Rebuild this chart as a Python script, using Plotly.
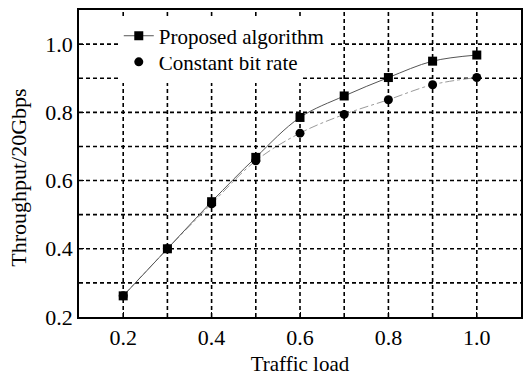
import plotly.graph_objects as go

traffic_load = [0.2, 0.3, 0.4, 0.5, 0.6, 0.7, 0.8, 0.9, 1.0]
proposed = [0.262, 0.400, 0.538, 0.668, 0.785, 0.848, 0.902, 0.950, 0.968]
constant = [0.262, 0.400, 0.532, 0.658, 0.739, 0.794, 0.837, 0.881, 0.902]
x_ticks = [0.2, 0.4, 0.6, 0.8, 1.0]
x_tick_text = ["0.2", "0.4", "0.6", "0.8", "1.0"]
y_ticks = [0.2, 0.4, 0.6, 0.8, 1.0]
y_tick_text = ["0.2", "0.4", "0.6", "0.8", "1.0"]

font = "Liberation Serif, Times New Roman, serif"

fig = go.Figure()
fig.add_trace(go.Scatter(
    x=traffic_load, y=constant, mode="lines",
    line=dict(color="#9a9a9a", width=1, dash="dashdot", shape="spline"),
    showlegend=False, hoverinfo="skip"))
fig.add_trace(go.Scatter(
    x=traffic_load, y=proposed, mode="lines+markers", name="Proposed algorithm",
    line=dict(color="#555555", width=1, shape="spline"),
    marker=dict(symbol="square", size=9, color="black"), legend="legend2"))
fig.add_trace(go.Scatter(
    x=traffic_load, y=constant, mode="markers", name="Constant bit rate",
    marker=dict(symbol="circle", size=9, color="black"), legend="legend"))

axis_common = dict(
    showline=True, linecolor="black", linewidth=1.5, mirror=True,
    ticks="inside", ticklen=5, tickcolor="black",
    showgrid=False, zeroline=False,
    tickfont=dict(family=font, size=22, color="black"),
)

fig.update_xaxes(range=[0.1, 1.1], tickvals=x_ticks, ticktext=x_tick_text,
                 title=dict(text="Traffic load", font=dict(family=font, size=21, color="black"), standoff=7),
                 **axis_common)
fig.update_yaxes(range=[0.2, 1.1], tickvals=y_ticks, ticktext=y_tick_text, **axis_common)

fig.add_annotation(text="Throughput/20Gbps", textangle=-90, xref="paper", yref="paper",
                   x=-0.137, y=0.455, xanchor="center", yanchor="middle", showarrow=False,
                   font=dict(family=font, size=22, color="black"))

# dashed grid lines every 0.1
shapes = []
for i in range(2, 11):
    xv = i / 10
    shapes.append(dict(type="line", xref="x", yref="paper", x0=xv, x1=xv, y0=0, y1=1,
                       line=dict(color="black", width=1.6, dash="4px,3px"), layer="below"))
for i in range(3, 11):
    yv = i / 10
    shapes.append(dict(type="line", xref="paper", yref="y", x0=0, x1=1, y0=yv, y1=yv,
                       line=dict(color="black", width=1.6, dash="4px,3px"), layer="below"))
fig.update_layout(shapes=shapes)

leg_common = dict(xanchor="left", yanchor="middle", bgcolor="white", borderwidth=0,
                  font=dict(family=font, size=21, color="black"), itemwidth=30)

fig.update_layout(
    width=526, height=377,
    margin=dict(l=79, r=3, t=10, b=60),
    plot_bgcolor="white", paper_bgcolor="white",
    font=dict(family=font, size=21, color="black"),
    showlegend=True,
    legend2=dict(x=0.09, y=0.915, **leg_common),
    legend=dict(x=0.09, y=0.83, **leg_common),
)

fig.write_html("out.html")
